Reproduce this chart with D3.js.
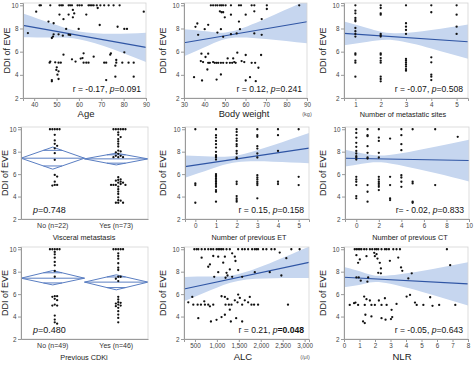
<!DOCTYPE html>
<html><head><meta charset="utf-8">
<script src="https://cdn.jsdelivr.net/npm/d3@7"></script>
<style>body{margin:0;background:#fff}svg{display:block;font-family:Arial,"Liberation Sans",sans-serif}</style>
</head><body><svg id="c" width="474" height="372"></svg>
<script>
// ---------- DATA ----------
const yTicks = [2,4,6,8,10];
const yLabel = "DDI of EVE";

const agePoints = [[42.4,10],[43,10],[47.2,10],[51.3,10],[52.1,10],[52.8,10],[55.4,10],[56.1,10],[56.9,10],[59.4,10],[60.3,10],[61.3,10],[64.3,10],[65,10],[65.8,10],[66.6,10],[68,10],[69.6,10],[71.3,10],[73.3,10],[75.5,10],[78.2,10],
[40.9,9.45],[68.4,9.77],[57.3,9.6],[57.9,9.3],[55.4,9.2],[51.3,9.2],[63.3,9.2],[89,9.45],[53.1,8.8],[57.3,8.96],[46.4,8.6],[48.7,8.45],[69.3,8.3],[77.3,8.15],[80.3,7.96],[81.5,7.96],[59.9,7.96],[54.3,7.96],[37.2,7.6],[48.7,7.5],[50.9,7.5],[55.4,7.47],[56.1,7.44],[52.8,7.38],[48.4,7.3],[47.9,7.18],
[53.1,5.74],[62.1,5.86],[61.6,5.45],[56.9,5.34],[60.8,5.4],[58.5,5.14],[47.2,5.14],[46.9,5.05],[49.4,5.08],[50.9,5.05],[51.9,5.05],[62.1,5.05],[63.3,5.05],[64.3,5.05],[66.6,5.57],[71.3,5.05],[72.2,5.05],[74,5.74],[74.3,5.86],[76.7,5.28],[76.7,5.05],[76.3,4.79],[80.3,5.94],[79.4,5.05],[82.2,5.05],[84.5,5.05],
[50.1,4.65],[49.9,4.42],[50.9,4.3],[50.4,4.01],[50.9,3.64],[47.9,3.55],[47.9,3.44],[72.2,3.55],[76.3,3.84],[84.5,3.84]];
const ageFit = [[35,8.27],[90,6.37]];
const ageBand = [[35,7.24,9.30],[48,7.22,8.42],[60,7.08,7.74],[75,6.24,7.54],[90,5.10,7.64]];

const weightPoints = [[43.1,10],[44.2,10],[45.4,10],[46.3,10],[47.5,10],[48.3,10],[49.1,10],[50.3,10],[52.9,10],[56.8,10],[57.8,10],[63,10],[64.3,10],[70.4,10],[86.2,10],
[70.4,9.68],[47.5,9.48],[48.3,9.4],[49.1,9.4],[52.9,9.19],[60.1,9.19],[64.3,9.48],[49.9,8.96],[67.9,8.81],[56.8,8.6],[36.5,8.43],[41.8,8.32],[35.6,8.14],[40.1,7.94],[48,7.94],[57.3,7.94],[46.3,7.65],[36.9,7.45],[52.9,7.51],[55.7,7.57],[64.3,7.57],[67.9,7.45],[49.1,7.28],
[38.5,5.83],[41.8,5.83],[40.5,5.54],[56,5.91],[60.1,5.71],[67.6,5.71],[51.3,5.42],[54,5.42],
[38.2,5.19],[39.3,5.1],[41.8,5.04],[42.6,5.04],[44.2,5.1],[45,5.04],[45.9,5.04],[46.7,5.04],[48,5.04],[49.1,5.04],[50.8,5.04],[52.4,5.04],[53.5,5.04],[54.5,5.1],[55.2,5.04],[58.1,5.19],[59.4,5.1],[63,5.04],[64.7,5.04],
[66.3,4.61],[41.4,4.46],[48,4.03],[34.9,3.8],[45.9,3.59],[38.8,3.51],[60.1,3.51],[62.2,3.8],[65,3.45]];
const weightFit = [[30,6.77],[90,8.58]];
const weightBand = [[30,5.61,7.93],[42,6.53,7.73],[53,7.18,7.74],[70,7.09,8.87],[90,6.72,10.44]];

const sitesPoints = [[1,10],[1,9.54],[1,9.31],[1,8.91],[1,8.73],[1,8.62],[1,8.04],[1,7.76],[1,7.53],[1,7.3],[1,5.86],[1,5.74],[1,5.22],[1,5.05],[1,3.84],
[2,10],[2,9.77],[2,9.31],[2,9.19],[2,7.53],[2,7.41],[2,7.3],[2,5.86],[2,5.74],[2,5.45],[2,5.22],[2,5.05],[2,3.84],[2,3.64],[2,3.44],
[3,10],[3,8.45],[3,8.16],[3,7.87],[3,7.53],[3,5.37],[3,5.22],[3,5.05],[3,4.88],[3,4.71],[3,4.5],[3,4.36],
[4,10],[4,9.4],[4,5.51],[4,5.08],[4,4.01],[4,3.84],[4,3.55],
[5,10],[5,9.19],[5,8.16],[5,7.53]];
const sitesFit = [[0.55,7.58],[5.45,6.86]];
const sitesBand = [[0.55,6.55,8.61],[1.5,6.85,8.03],[2.53,6.99,7.59],[4,6.28,7.86],[5.45,5.38,8.34]];

const visceralCats = ["No (n=22)","Yes (n=73)"];
const visceralNo = [10,10,10,10,10,9.5,9.0,8.7,8.52,8.3,7.87,7.27,5.93,5.78,5.33,5.04,5.04,4.98];
const visceralYes = [10,10,10,10,10,10,9.72,9.5,9.3,9.12,8.91,8.7,8.46,8.1,8.02,7.93,7.81,7.63,7.63,7.51,7.51,7.51,
5.72,5.54,5.48,5.42,5.33,5.24,5.24,5.12,5.04,5.04,5.04,5.04,4.89,4.65,4.44,4.23,3.93,3.68,3.63,3.45,3.45,3.45];
const visceralMean = [7.42,7.36];
const visceralLo = [6.44,6.82];
const visceralHi = [8.41,7.87];

const etPoints = [[0,10],[0,5.17],[0,5.02],[0,3.45],
[1,10],[1,9.47],[1,9.26],[1,8.96],[1,8.67],[1,8.37],[1,7.99],[1,7.69],[1,7.6],[1,7.48],[1,7.3],[1,6.0],[1,5.91],[1,5.76],[1,5.62],[1,5.47],[1,5.32],[1,5.17],[1,5.02],[1,4.87],[1,4.58],[1,4.43],[1,3.54],
[2,10],[2,9.76],[2,9.47],[2,9.17],[2,8.96],[2,8.67],[2,8.49],[2,8.07],[2,7.84],[2,7.48],[2,7.39],[2,5.32],[2,5.11],[2,4.04],[2,3.84],[2,3.69],[2,3.54],
[3,10],[3,9.47],[3,9.32],[3,8.49],[3,8.28],[3,7.84],[3,7.48],[3,5.91],[3,5.7],[3,5.53],[3,5.32],[3,5.17],[3,5.02],[3,3.84],
[4,10],[4,9.47],[4,8.07],[4,5.32],[4,5.11],
[5,10],[5,5.76],[5,5.02]];
const etFit = [[-0.5,6.67],[5.5,8.32]];
const etBand = [[-0.5,5.67,7.67],[0.75,6.45,7.57],[2,7.06,7.66],[3.75,7.11,8.57],[5.5,6.98,9.66]];

const ctPoints = [[0,10],[0,9.67],[0,9.26],[0,8.79],[0,8.43],[0,8.07],[0,7.84],[0,7.6],[0,7.48],[0,7.3],[0,5.76],[0,5.53],[0,5.32],[0,5.02],[0,4.04],[0,3.84],
[1,10],[1,9.47],[1,9.38],[1,8.49],[1,7.9],[1,7.48],[1,7.39],[1,5.02],[1,4.43],[1,3.54],
[2,10],[2,9.26],[2,8.96],[2,7.9],[2,7.48],[2,5.76],[2,5.53],[2,5.32],[2,5.17],[2,5.02],[2,4.87],[2,4.58],
[3,9.17],[3,5.76],[3,5.02],[3,3.84],[3,3.69],
[4,10],[4,9.47],[4,8.67],[4,8.13],[4,5.91],[4,5.7],[4,5.32],[4,4.87],
[5,10],[5,5.32],[5,5.17],[5,3.54],[5,3.45],
[7,10],[7,5.02],[9,9.32]];
const ctFit = [[-1,7.42],[10,7.21]];
const ctBand = [[-1,6.67,8.17],[0.5,6.93,7.85],[2,7.06,7.66],[4,6.77,7.87],[7,6.09,8.45],[10,5.35,9.07]];

const cdkiCats = ["No (n=49)","Yes (n=46)"];
const cdkiNo = [10,10,10,10,10,9.76,9.55,9.25,8.87,8.57,8.06,7.55,5.82,5.76,5.82,5.58,5.46,5.07,4.98,4.98,4.09,3.73,3.49,3.37];
const cdkiYes = [10,10,10,10,10,9.64,9.4,9.16,8.75,8.36,8.15,7.55,7.55,7.37,7.16,5.76,5.52,5.28,5.22,5.16,5.07,4.98,4.93,4.78,4.48,4.18,3.88,3.49];
const cdkiMean = [7.42,7.07];
const cdkiLo = [6.82,6.38];
const cdkiHi = [8.10,7.72];

const alcPoints = [[485,10],[538,10],[576,10],[652,10],[727,10],[803,10],[864,10],[917,10],[992,10],[1030,10],[1068,10],[1106,10],[1144,10],[1220,10],[1295,10],[1485,10],[1576,10],[1636,10],[1712,10],[1803,10],[1864,10],[1902,10],[1939,10],[2053,10],[2129,10],[2242,10],[2318,10],[2697,10],[2886,10],
[1348,9.64],[1409,9.34],[1182,9.34],[1030,9.34],[917,9.4],[652,9.25],[1424,8.95],[2583,9.2],[2432,9.7],[1144,8.8],[841,8.65],[803,8.44],[1295,8.2],[1030,7.96],[1864,7.96],[2205,7.96],[1220,7.9],[1242,7.66],[1197,7.46],[1348,7.54],[1485,8.14],[1576,7.54],[2470,7.66],[939,7.54],
[348,5.27],[439,5.75],[462,5.06],[561,5.06],[636,5.06],[712,5.36],[727,5.06],[803,5.06],[841,4.91],[917,5.06],[1106,5.81],[1182,5.75],[1242,5.57],[1197,5.06],[1273,5.06],[1333,5.06],[1409,5.45],[1470,5.27],[1485,5.96],[1523,5.66],[1576,5.06],[1636,5.45],[1712,5.27],[1750,5.75],[1788,5.06],[1848,5.06],[1939,5.06],[2621,5.06],
[1295,4.61],[1182,4.16],[1106,3.95],[576,3.86],[992,3.71],[864,3.56],[1318,3.56],[1576,3.56],[1439,3.86]];
const alcFit = [[250,6.45],[3100,8.83]];
const alcBand = [[250,5.37,7.53],[850,6.34,7.56],[1480,7.18,7.78],[2300,7.41,8.91],[3100,7.43,10.23]];
const alcTicks = [500,1000,1500,2000,2500,3000];

const nlrPoints = [[0.69,10],[0.8,10],[0.91,10],[1.02,10],[1.12,10],[1.3,10],[1.45,10],[1.67,10],[1.82,10],[1.99,10],[2.1,10],[2.21,10],[2.42,10],[2.64,10],[2.75,10],[2.9,10],[3.18,10],[3.39,10],[3.61,10],[6.64,10],
[0.8,9.47],[1.45,9.38],[1.99,9.38],[1.95,9.68],[2.1,9.56],[2.16,9.17],[3.5,9.26],[1.02,9.09],[0.91,8.79],[2.96,8.97],[2.31,8.79],[2.38,8.29],[3.68,8.38],[2.21,7.9],[2.38,7.85],[4.37,7.85],[6.85,8.58],[0.8,7.49],[0.95,7.49],[1.56,7.49],[1.08,7.2],[1.51,7.11],[3.76,8.08],[4.15,7.4],
[0.74,5.25],[0.65,5.19],[0.37,5.04],[0.91,5.04],[1.3,5.78],[1.45,5.55],[1.67,5.43],[1.34,5.04],[1.77,5.04],[1.99,5.04],[2.25,5.43],[2.64,5.63],[2.42,5.04],[2.75,5.04],[3.39,5.13],[4.04,5.78],[4.26,5.93],[4.58,5.25],[4.69,5.04],[5.12,5.04],[5.56,5.72],[5.71,4.96],[6.14,5.04],[7.18,5.04],
[3.07,4.6],[1.38,4.16],[1.77,4.01],[2.42,3.86],[2.68,3.72],[3.11,3.95],[1.23,3.57],[1.34,3.42],[3.03,3.78]];
const nlrFit = [[0,7.51],[8,6.91]];
const nlrBand = [[0,6.61,8.41],[1.25,6.905,7.935],[2.47,7.03,7.63],[5,6.22,8.06],[8,4.98,8.84]];

// ---------- DRAWING ----------
const svg = d3.select("#c");
const rows = [[3,98],[127,219],[247,339]];
const titleBase = [117,239.5,359.5];
const BAND = "#c6d6ef", LINE = "#2f55a4", DIAM = "#5a7ec2";
let clipId = 0;

function yScale(r){ return d3.scaleLinear().domain([2,10.2]).range([rows[r][1], rows[r][0]]); }

function styleAxis(a){
  a.selectAll(".domain").attr("stroke","#9a9a9a");
  a.selectAll(".tick line").attr("stroke","#9a9a9a");
  a.selectAll(".tick text").attr("font-size",6.3).attr("fill","#444").attr("font-family","Arial, 'Liberation Sans', sans-serif");
}

function frame(g, x0, x1, r, x, xAxisGen, ylx, title, tsize, tx){
  const y = yScale(r);
  g.append("rect").attr("x",x0).attr("y",rows[r][0]).attr("width",x1-x0).attr("height",rows[r][1]-rows[r][0])
    .attr("fill","none").attr("stroke","#d4d4d4").attr("stroke-width",0.8);
  const ax = g.append("g").attr("transform",`translate(0,${rows[r][1]})`).call(xAxisGen);
  styleAxis(ax);
  const ay = g.append("g").attr("transform",`translate(${x0},0)`).call(d3.axisLeft(y).tickValues(yTicks).tickSize(3).tickPadding(1.5));
  styleAxis(ay);
  const cy = (rows[r][0]+rows[r][1])/2;
  g.append("text").attr("transform",`translate(${ylx},${cy}) rotate(-90)`).attr("text-anchor","middle")
    .attr("dominant-baseline","central").attr("font-size",9).attr("fill","#222").text(yLabel);
  g.append("text").attr("x",tx).attr("y",titleBase[r]).attr("text-anchor","middle").attr("font-size",tsize).attr("fill","#222").text(title);
}

function statText(g, xPos, yPos, anchor, parts, size){
  const t = g.append("text").attr("x",xPos).attr("y",yPos).attr("text-anchor",anchor).attr("font-size",size).attr("fill","#111");
  parts.forEach(p=>{
    const s = t.append("tspan").text(p[0]);
    if(p[1]==="i") s.attr("font-style","italic");
    if(p[1]==="b") s.attr("font-weight","bold");
  });
}

function scatter(o){
  const g = svg.append("g");
  const r = o.row, y = yScale(r);
  const x = d3.scaleLinear().domain(o.dom).range([o.x0,o.x1]);
  const id = "clip"+(clipId++);
  g.append("clipPath").attr("id",id).append("rect").attr("x",o.x0).attr("y",rows[r][0]).attr("width",o.x1-o.x0).attr("height",rows[r][1]-rows[r][0]);
  const area = d3.area().x(d=>x(d[0])).y0(d=>y(d[1])).y1(d=>y(d[2])).curve(d3.curveNatural);
  g.append("path").attr("d",area(o.band)).attr("fill",BAND).attr("clip-path",`url(#${id})`);
  g.append("path").attr("d",d3.line().x(d=>x(d[0])).y(d=>y(d[1]))(o.fit)).attr("stroke",LINE).attr("stroke-width",1.1).attr("fill","none");
  g.selectAll("circle.pt").data(o.points).join("circle").attr("class","pt")
    .attr("cx",d=>x(d[0])).attr("cy",d=>y(d[1])).attr("r",1.15).attr("fill","#111");
  const xa = d3.axisBottom(x).tickValues(o.ticks).tickSize(3).tickPadding(1.5).tickFormat(o.fmt || d3.format("d"));
  frame(g,o.x0,o.x1,r,x,xa,o.ylx,o.title,o.tsize,o.tx);
  statText(g,o.x1-5,rows[r][1]-6,"end",o.stat,8.6);
  if(o.unit) g.append("text").attr("x",o.unit[1]).attr("y",titleBase[r]-1).attr("text-anchor","middle").attr("font-size",5.5).attr("fill","#555").text(o.unit[0]);
}

function swarm(values, cx, y){
  const placed = [], s = 2.4;
  values.slice().sort((a,b)=>b-a).forEach(v=>{
    const py = y(v);
    for(let k=0;k<60;k++){
      const off = k===0?0:(k%2?1:-1)*Math.ceil(k/2)*s;
      const px = cx+off;
      if(placed.every(p=>(p[0]-px)**2+(p[1]-py)**2 >= s*s*0.95)){ placed.push([px,py]); break; }
    }
  });
  return placed;
}

function oneway(o){
  const g = svg.append("g");
  const r = o.row, y = yScale(r);
  const x = d3.scaleBand().domain(o.cats).range([o.x0,o.x1]);
  const hw = x.bandwidth()/2;
  o.cats.forEach((c,i)=>{
    const cx = x(c)+hw;
    const m = y(o.mean[i]), t = y(o.hi[i]), b = y(o.lo[i]);
    g.append("path").attr("d",`M${cx-hw},${m}L${cx},${t}L${cx+hw},${m}L${cx},${b}Z`)
      .attr("fill","none").attr("stroke",DIAM).attr("stroke-width",1);
    g.append("line").attr("x1",cx-hw).attr("x2",cx+hw).attr("y1",m).attr("y2",m).attr("stroke",DIAM).attr("stroke-width",1);
    const f = 1/Math.SQRT2;
    [o.mean[i]+(o.hi[i]-o.mean[i])*f, o.mean[i]-(o.mean[i]-o.lo[i])*f].forEach(v=>{
      const w = hw*(1-f);
      g.append("line").attr("x1",cx-w).attr("x2",cx+w).attr("y1",y(v)).attr("y2",y(v)).attr("stroke",DIAM).attr("stroke-width",1);
    });
    const pts = swarm(o.groups[i], cx+2, y);
    g.selectAll(null).data(pts).join("circle").attr("cx",d=>d[0]).attr("cy",d=>d[1]).attr("r",1.15).attr("fill","#111");
  });
  const xa = d3.axisBottom(x).tickSize(0).tickPadding(4);
  frame(g,o.x0,o.x1,r,x,xa,o.ylx,o.title,7.3,o.tx);
  g.selectAll(".tick text").filter(function(){ return o.cats.includes(this.textContent); }).attr("font-size",7).attr("fill","#333");
  statText(g,33,rows[r][1]-6,"start",o.stat,9);
}

scatter({row:0,x0:23,x1:146,dom:[35,90],ticks:[40,50,60,70,80,90],points:agePoints,fit:ageFit,band:ageBand,
  ylx:7,title:"Age",tsize:9.5,tx:86,stat:[["r = -0.17, "],["p","i"],["=0.091"]]});
scatter({row:0,x0:184,x1:307,dom:[30,90],ticks:[30,40,50,60,70,80,90],points:weightPoints,fit:weightFit,band:weightBand,
  ylx:163,title:"Body weight",tsize:9.3,tx:244,unit:["(kg)",307],stat:[["r = 0.12, "],["p","i"],["=0.241"]]});
scatter({row:0,x0:344,x1:468,dom:[0.55,5.45],ticks:[1,2,3,4,5],points:sitesPoints,fit:sitesFit,band:sitesBand,
  ylx:323,title:"Number of metastatic sites",tsize:7.3,tx:403,stat:[["r = -0.07, "],["p","i"],["=0.508"]]});

oneway({row:1,x0:21,x1:148,cats:visceralCats,groups:[visceralNo,visceralYes],mean:visceralMean,lo:visceralLo,hi:visceralHi,
  ylx:5,title:"Visceral metastasis",tx:84,stat:[["p","i"],["=0.748"]]});
scatter({row:1,x0:185,x1:309,dom:[-0.5,5.5],ticks:[0,1,2,3,4,5],points:etPoints,fit:etFit,band:etBand,
  ylx:163,title:"Number of previous ET",tsize:7.3,tx:249,stat:[["r = 0.15, "],["p","i"],["=0.158"]]});
scatter({row:1,x0:345,x1:469,dom:[-1,10],ticks:[0,2,4,6,8,10],points:ctPoints,fit:ctFit,band:ctBand,
  ylx:323,title:"Number of previous CT",tsize:7.3,tx:410,stat:[["r= - 0.02, "],["p","i"],["=0.833"]]});

oneway({row:2,x0:21,x1:148,cats:cdkiCats,groups:[cdkiNo,cdkiYes],mean:cdkiMean,lo:cdkiLo,hi:cdkiHi,
  ylx:5,title:"Previous CDKi",tx:84,stat:[["p","i"],["=0.480"]]});
scatter({row:2,x0:184,x1:309,dom:[250,3100],ticks:alcTicks,fmt:d3.format(","),points:alcPoints,fit:alcFit,band:alcBand,
  ylx:163,title:"ALC",tsize:9.5,tx:243,unit:["(/μl)",305],stat:[["r = 0.21, "],["p","i"],["=0.048","b"]]});
scatter({row:2,x0:344,x1:468,dom:[0,8],ticks:[0,1,2,3,4,5,6,7,8],points:nlrPoints,fit:nlrFit,band:nlrBand,
  ylx:323,title:"NLR",tsize:9.5,tx:402,stat:[["r = -0.05, "],["p","i"],["=0.643"]]});
</script>
</body></html>
